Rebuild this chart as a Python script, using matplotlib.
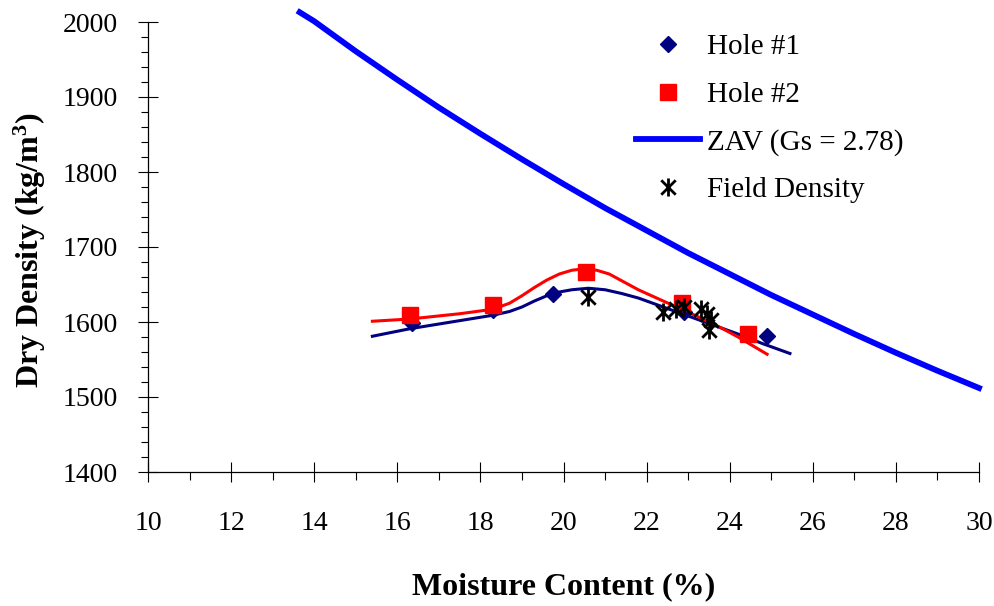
import matplotlib
matplotlib.use("Agg")
import matplotlib.pyplot as plt
from matplotlib.path import Path
from matplotlib.ticker import MultipleLocator

plt.rcParams["font.family"] = ["Liberation Serif", "DejaVu Serif"]
plt.rcParams["mathtext.default"] = "regular"

# compaction test results
hole1_w = [16.35, 18.3, 19.75, 22.9, 24.9]
hole1_rho = [1599, 1616, 1637, 1614, 1581]

hole2_w = [16.3, 18.3, 20.55, 22.85, 24.45]
hole2_rho = [1609, 1623, 1667, 1625, 1584]

# field density tests
field_w = [20.6, 22.4, 22.7, 22.9, 23.3, 23.45, 23.55, 23.5]
field_rho = [1633, 1613, 1618, 1620, 1617, 1611, 1603, 1589]

# zero air voids curve
zav_w = [13.65, 14, 15, 16, 17, 18, 19, 20, 21, 22, 23, 24, 25, 26, 27, 28, 29, 30]
zav_rho = [2013, 2001, 1961, 1923, 1886, 1851, 1817, 1784, 1752, 1722, 1692,
           1664, 1636, 1610, 1584, 1559, 1535, 1512]

# trend curves through each hole
trend1_w = [15.4, 16.3, 17.3, 18.3, 18.7, 19.0, 19.3, 19.6, 19.9, 20.2, 20.6,
            21.0, 21.4, 21.8, 22.2, 22.6, 23.0, 23.4, 23.8, 24.2, 24.8, 25.45]
trend1_rho = [1581, 1591, 1600, 1609, 1614, 1620, 1628, 1635, 1640, 1643, 1645,
              1643, 1638, 1632, 1624, 1616, 1608, 1600, 1592, 1584, 1571, 1558]
trend2_w = [15.4, 16.3, 17.5, 18.3, 18.7, 19.0, 19.3, 19.6, 19.9, 20.2, 20.5,
            20.8, 21.1, 21.4, 21.8, 22.2, 22.6, 23.0, 23.4, 23.8, 24.2, 24.9]
trend2_rho = [1601, 1604, 1611, 1617, 1625, 1635, 1646, 1656, 1664, 1669, 1671,
              1669, 1664, 1655, 1643, 1633, 1623, 1613, 1603, 1592, 1580, 1557]

# asterisk: vertical bar plus an X
star = Path(
    [(0, -1), (0, 1), (-0.8, -0.8), (0.8, 0.8), (-0.8, 0.8), (0.8, -0.8)],
    [Path.MOVETO, Path.LINETO] * 3,
)

fig = plt.figure(figsize=(9.94, 6.06), dpi=100)
ax = fig.add_axes([148 / 994, 134 / 606, 831 / 994, 450 / 606])

ax.plot(zav_w, zav_rho, color="#0000FF", lw=4.2, clip_on=False,
        label="ZAV (Gs = 2.78)", zorder=2)
ax.plot(trend1_w, trend1_rho, color="#000080", lw=2.2, zorder=3)
ax.plot(trend2_w, trend2_rho, color="#FF0000", lw=2.2, zorder=3)
ax.plot(hole1_w, hole1_rho, ls="none", marker="D", ms=8, color="#000080",
        label="Hole #1", zorder=4)
ax.plot(hole2_w, hole2_rho, ls="none", marker="s", ms=11.5, color="#FF0000",
        label="Hole #2", zorder=5)
ax.plot(field_w, field_rho, ls="none", marker=star, ms=13, mew=2.0,
        color="black", label="Field Density", zorder=6)

ax.set_xlim(10, 30)
ax.set_ylim(1400, 2000)
ax.xaxis.set_major_locator(MultipleLocator(2))
ax.xaxis.set_minor_locator(MultipleLocator(1))
ax.yaxis.set_major_locator(MultipleLocator(100))
ax.yaxis.set_minor_locator(MultipleLocator(20))

for side in ("top", "right"):
    ax.spines[side].set_visible(False)
for side in ("left", "bottom"):
    ax.spines[side].set_linewidth(0.9)

ax.tick_params(which="major", direction="inout", length=14, width=0.8,
               labelsize=20)
ax.tick_params(which="minor", direction="out", length=5.4, width=0.8)
ax.tick_params(axis="x", which="major", pad=21)
ax.tick_params(axis="y", which="major", pad=15)

ax.set_xlabel("Moisture Content (%)", fontsize=23, fontweight="bold")
ax.xaxis.set_label_coords(0.5, -0.2556)
ax.xaxis.label.set_va("center")
ax.set_ylabel("Dry Density (kg/m$^3$)", fontsize=23, fontweight="bold")
ax.yaxis.set_label_coords(-0.142, 0.493)
ax.yaxis.label.set_va("center")

handles, labels = ax.get_legend_handles_labels()
order = [1, 2, 0, 3]
ax.legend([handles[i] for i in order], [labels[i] for i in order],
          loc="upper left", bbox_to_anchor=(636 / 994, 1 - 34 / 606),
          bbox_transform=fig.transFigure, frameon=False, fontsize=21,
          handlelength=2.2, handletextpad=0.25, labelspacing=0.72,
          borderpad=0, borderaxespad=0, numpoints=1)

fig.savefig("out.png", dpi=100)
